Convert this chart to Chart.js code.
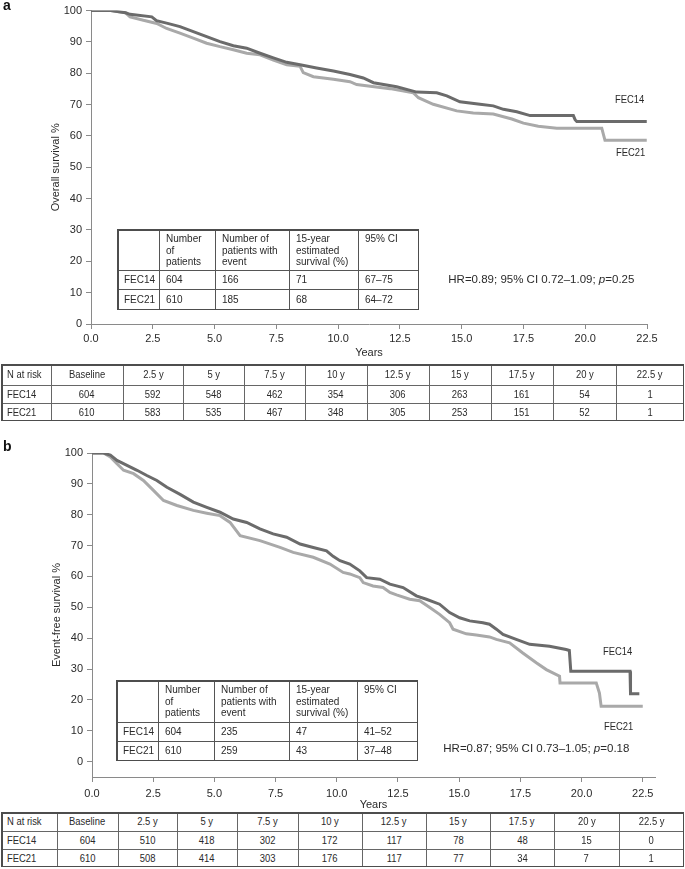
<!DOCTYPE html>
<html>
<head>
<meta charset="utf-8">
<script src="https://cdn.jsdelivr.net/npm/chart.js@4.4.1/dist/chart.umd.min.js"></script>
<style>
html,body{margin:0;padding:0;background:#fff;}
#wrap{position:relative;width:685px;height:869px;overflow:hidden;font-family:"Liberation Sans",Arial,Helvetica,sans-serif;color:#222;}
canvas{position:absolute;left:0;}
.t{position:absolute;white-space:nowrap;line-height:1;}
.ln{position:absolute;}
</style>
</head>
<body>
<div id="wrap">
  <canvas id="cA" width="685" height="362" style="top:0px"></canvas>
  <canvas id="cB" width="685" height="372" style="top:440px"></canvas>
</div>
<script>
// ---------------- DATA ----------------
// Panel a: overall survival (years, survival %)
const osYears14 = [0, 0.8, 1.4, 1.58, 2.46, 2.65, 3.06, 3.60, 4.14, 4.68, 5.22, 5.76, 6.30, 6.84, 7.38, 7.92, 8.46, 9.13, 9.81, 10.48, 11.02, 11.43, 12.37, 13.18, 13.99, 14.40, 14.93, 15.74, 16.28, 16.69, 17.23, 17.77, 19.52, 19.59, 19.66, 22.49];
const osSurv14  = [100, 100, 99.3, 98.8, 98.0, 96.8, 96.0, 94.9, 93.3, 91.7, 90.1, 88.8, 88.0, 86.4, 84.9, 83.5, 82.7, 81.7, 80.7, 79.6, 78.5, 77.0, 75.7, 74.0, 73.8, 72.8, 70.9, 70.1, 69.6, 68.5, 67.7, 66.5, 66.5, 65.2, 64.6, 64.6];
const osYears21 = [0, 0.8, 1.4, 1.58, 2.12, 2.66, 3.06, 3.60, 4.14, 4.68, 5.22, 5.76, 6.30, 6.84, 7.38, 7.92, 8.46, 8.59, 9.00, 9.81, 10.48, 10.75, 12.10, 13.04, 13.25, 13.85, 14.80, 15.47, 16.28, 17.03, 17.50, 18.10, 18.85, 20.67, 20.73, 20.80, 22.49];
const osSurv21  = [100, 100, 99.3, 98.0, 96.9, 95.9, 94.3, 92.8, 91.2, 89.6, 88.5, 87.5, 86.4, 85.9, 84.2, 82.7, 82.2, 80.2, 78.9, 78.1, 77.3, 76.4, 75.1, 73.8, 72.2, 70.1, 68.0, 67.3, 67.0, 65.4, 64.1, 63.1, 62.5, 62.5, 60.7, 58.6, 58.6];

// Panel b: event-free survival
const efsYears14 = [0, 0.47, 0.75, 1.02, 1.43, 1.84, 2.24, 2.65, 3.06, 3.60, 4.14, 4.69, 5.23, 5.77, 6.32, 6.86, 7.40, 7.95, 8.50, 9.04, 9.58, 9.85, 10.13, 10.53, 10.94, 11.22, 11.76, 12.17, 12.71, 13.25, 13.66, 14.20, 14.61, 15.02, 15.43, 15.97, 16.24, 16.52, 16.79, 17.33, 17.88, 18.69, 19.37, 19.50, 19.56, 21.98, 22.00, 22.36];
const efsSurv14  = [100, 100, 99.3, 97.6, 96.0, 94.4, 92.7, 91.1, 88.9, 86.6, 84.1, 82.4, 80.8, 78.6, 77.5, 75.4, 73.8, 72.7, 70.5, 69.4, 68.3, 66.5, 65.1, 64.0, 61.8, 59.6, 59.1, 57.5, 56.4, 53.7, 52.6, 51.0, 48.3, 46.6, 45.6, 45.0, 44.5, 42.9, 41.2, 39.6, 38.0, 37.4, 36.3, 36.0, 29.3, 29.3, 22.0, 22.0];
const efsYears21 = [0, 0.47, 0.75, 1.02, 1.29, 1.70, 2.10, 2.51, 2.92, 3.47, 4.14, 4.69, 5.23, 5.64, 6.05, 6.86, 7.68, 8.22, 9.04, 9.72, 10.26, 10.53, 10.94, 11.08, 11.48, 11.89, 12.17, 12.44, 12.98, 13.39, 13.80, 14.20, 14.61, 14.75, 15.29, 15.70, 16.24, 16.52, 17.06, 17.60, 18.15, 18.56, 19.10, 19.12, 20.60, 20.73, 20.80, 22.50];
const efsSurv21  = [100, 100, 98.7, 96.5, 94.4, 93.3, 91.1, 87.9, 84.6, 83.0, 81.4, 80.5, 79.7, 77.5, 73.2, 71.6, 69.4, 67.8, 66.2, 64.0, 61.3, 60.8, 59.6, 58.0, 56.9, 56.4, 54.8, 54.0, 52.6, 52.1, 49.9, 47.7, 45.0, 42.9, 41.4, 41.0, 40.4, 39.6, 38.5, 35.2, 32.0, 29.8, 27.7, 25.5, 25.5, 22.2, 17.9, 17.9];

// Axis ticks
const yTickValues = [0, 10, 20, 30, 40, 50, 60, 70, 80, 90, 100];
const xTickValues = [0, 2.5, 5, 7.5, 10, 12.5, 15, 17.5, 20, 22.5];

// Inner summary tables
const summaryHeader = ["", "Number<br>of<br>patients", "Number of<br>patients with<br>event", "15-year<br>estimated<br>survival (%)", "95% CI"];
const osSummary14  = ["FEC14", "604", "166", "71", "67–75"];
const osSummary21  = ["FEC21", "610", "185", "68", "64–72"];
const efsSummary14 = ["FEC14", "604", "235", "47", "41–52"];
const efsSummary21 = ["FEC21", "610", "259", "43", "37–48"];

// Numbers at risk
const riskHeader = ["N at risk", "Baseline", "2.5 y", "5 y", "7.5 y", "10 y", "12.5 y", "15 y", "17.5 y", "20 y", "22.5 y"];
const osRisk14  = [604, 592, 548, 462, 354, 306, 263, 161, 54, 1];
const osRisk21  = [610, 583, 535, 467, 348, 305, 253, 151, 52, 1];
const efsRisk14 = [604, 510, 418, 302, 172, 117, 78, 48, 15, 0];
const efsRisk21 = [610, 508, 414, 303, 176, 117, 77, 34, 7, 1];

const hrTextA = 'HR=0.89; 95% CI 0.72–1.09; <i>p</i>=0.25';
const hrTextB = 'HR=0.87; 95% CI 0.73–1.05; <i>p</i>=0.18';

// ---------------- STYLE ----------------
const FONT = '"Liberation Sans", Arial, Helvetica, sans-serif';
const DARK = '#6b6b6b';
const LIGHT = '#a9a9a9';
const AXIS = '#8a8a8a';
const TXT = '#2a2a2a';

// narrow font: use an installed condensed face if there is one, otherwise squeeze horizontally
function hasFont(name) {
  const c = document.createElement('canvas').getContext('2d');
  const s = 'abcdefghijklmnopqrstuvwxyz0123456789';
  c.font = '40px monospace'; const w1 = c.measureText(s).width;
  c.font = '40px "' + name + '", monospace'; const w2 = c.measureText(s).width;
  return Math.abs(w1 - w2) > 0.5;
}
const NARROW_OK = hasFont('Liberation Sans Narrow');
const NARROW_FAMILY = NARROW_OK ? '"Liberation Sans Narrow", ' + FONT : FONT;
const NARROW_SCALE = NARROW_OK ? 1 : 0.82;

function zip(xs, ys) { return xs.map((x, i) => ({x: x, y: ys[i]})); }

function makeChart(id, cfg) {
  const ctx = document.getElementById(id).getContext('2d');
  return new Chart(ctx, {
    type: 'line',
    data: {
      datasets: [
        {label: 'FEC14', data: cfg.d14, borderColor: DARK, borderWidth: 3, pointRadius: 0, tension: 0, fill: false, order: 0, borderJoinStyle: 'miter'},
        {label: 'FEC21', data: cfg.d21, borderColor: LIGHT, borderWidth: 3, pointRadius: 0, tension: 0, fill: false, order: 1, borderJoinStyle: 'miter'}
      ]
    },
    options: {
      responsive: false, animation: false, devicePixelRatio: 1,
      layout: {padding: cfg.pad},
      plugins: {legend: {display: false}, tooltip: {enabled: false}},
      scales: {
        x: {
          type: 'linear', min: 0, max: cfg.xMax,
          afterBuildTicks: s => { s.ticks = xTickValues.map(v => ({value: v})); },
          ticks: {callback: v => Number(v).toFixed(1), font: {family: FONT, size: 11}, color: TXT, padding: cfg.xTickPad, maxRotation: 0, autoSkip: false},
          grid: {drawOnChartArea: false, drawTicks: true, tickLength: 5, color: AXIS},
          border: {display: true, color: AXIS, width: 1},
          title: {display: true, text: 'Years', font: {family: FONT, size: 11}, color: TXT, padding: {top: 0, bottom: cfg.xTitlePad}},
          afterFit: s => { s.height = cfg.xH; }
        },
        y: {
          min: cfg.yMin, max: 100,
          afterBuildTicks: s => { s.ticks = yTickValues.map(v => ({value: v})); },
          ticks: {font: {family: FONT, size: 11}, color: TXT, padding: 4, autoSkip: false},
          grid: {drawOnChartArea: false, drawTicks: true, tickLength: 5, color: AXIS},
          border: {display: true, color: AXIS, width: 1},
          title: {display: true, text: cfg.yTitle, font: {family: FONT, size: 11}, color: TXT, padding: {top: 6, bottom: 0}},
          afterFit: s => { s.width = 48; }
        }
      }
    }
  });
}

makeChart('cA', {
  d14: zip(osYears14, osSurv14), d21: zip(osYears21, osSurv21),
  pad: {left: 43, top: 7, right: 38, bottom: 0},
  xMax: 22.5, yMin: 0, xH: 38, xTickPad: 3, xTitlePad: 2.4,
  yTitle: 'Overall survival %'
});
makeChart('cB', {
  d14: zip(efsYears14, efsSurv14), d21: zip(efsYears21, efsSurv21),
  pad: {left: 44, top: 13, right: 30, bottom: 0},
  xMax: 23, yMin: -5, xH: 35, xTickPad: 5.5, xTitlePad: 0,
  yTitle: 'Event-free survival %'
});

// ---------------- HTML OVERLAYS ----------------
const wrap = document.getElementById('wrap');

function addText(html, x, baseline, size, opts) {
  opts = opts || {};
  const d = document.createElement('div');
  d.className = 't';
  d.innerHTML = html;
  d.style.left = x + 'px';
  d.style.top = (baseline - 0.8465 * size) + 'px';
  d.style.fontSize = size + 'px';
  d.style.fontFamily = opts.narrow ? NARROW_FAMILY : FONT;
  if (opts.narrow && NARROW_SCALE !== 1) {
    d.style.transform = 'scaleX(' + NARROW_SCALE + ')';
    d.style.transformOrigin = 'left center';
  }
  if (opts.bold) d.style.fontWeight = 'bold';
  d.style.color = opts.color || TXT;
  wrap.appendChild(d);
  return d;
}

function addLine(x, y, w, h, color) {
  const d = document.createElement('div');
  d.className = 'ln';
  d.style.left = x + 'px'; d.style.top = y + 'px';
  d.style.width = w + 'px'; d.style.height = h + 'px';
  d.style.background = color;
  wrap.appendChild(d);
}

// grid table: xs = column edges, ys = row edges
function drawGrid(xs, ys, outerW, outerC, innerC) {
  const L = xs[0], R = xs[xs.length - 1], T = ys[0], B = ys[ys.length - 1];
  for (let i = 1; i < xs.length - 1; i++) addLine(xs[i], T, 1, B - T, innerC);
  for (let j = 1; j < ys.length - 1; j++) addLine(L, ys[j], R - L, 1, innerC);
  addLine(L, T, R - L, outerW, outerC);
  addLine(L, B - outerW, R - L, outerW, outerC);
  addLine(L, T, outerW, B - T, outerC);
  addLine(R - outerW, T, outerW, B - T, outerC);
}

function cellText(html, x0, x1, y0, y1, opts) {
  const d = document.createElement('div');
  d.className = 't';
  d.style.left = x0 + 'px';
  d.style.width = (x1 - x0) + 'px';
  d.style.top = y0 + 'px';
  d.style.height = (y1 - y0) + 'px';
  d.style.display = 'flex';
  d.style.flexDirection = 'column';
  d.style.justifyContent = opts.valign === 'top' ? 'flex-start' : 'center';
  d.style.alignItems = opts.align === 'left' ? 'flex-start' : 'center';
  d.style.boxSizing = 'border-box';
  d.style.paddingLeft = (opts.padL || 0) + 'px';
  d.style.paddingTop = (opts.padT || 0) + 'px';
  d.style.fontSize = opts.size + 'px';
  d.style.fontFamily = opts.narrow ? NARROW_FAMILY : FONT;
  d.style.color = TXT;
  d.style.whiteSpace = 'nowrap';
  const s = document.createElement('span');
  s.innerHTML = html;
  s.style.lineHeight = opts.lh || '11.7px';
  s.style.display = 'inline-block';
  if (opts.narrow && NARROW_SCALE !== 1) {
    s.style.transform = 'scaleX(' + NARROW_SCALE + ')';
    s.style.transformOrigin = opts.align === 'left' ? 'left center' : 'center center';
  }
  d.appendChild(s);
  wrap.appendChild(d);
}

function summaryTable(xs, ys, r14, r21) {
  drawGrid(xs, ys, 1.5, '#4d4d4d', '#555');
  for (let c = 0; c < 5; c++) {
    cellText(summaryHeader[c], xs[c], xs[c + 1], ys[0], ys[1], {align: 'left', valign: 'top', padL: 7, padT: 4, size: 10});
    cellText(r14[c], xs[c], xs[c + 1], ys[1], ys[2], {align: 'left', padL: 7, size: 10});
    cellText(r21[c], xs[c], xs[c + 1], ys[2], ys[3], {align: 'left', padL: 7, size: 10});
  }
}

function riskTable(xs, ys, r14, r21) {
  drawGrid(xs, ys, 1.5, '#4d4d4d', '#666');
  const rows = [riskHeader, ['FEC14'].concat(r14), ['FEC21'].concat(r21)];
  for (let r = 0; r < 3; r++) {
    for (let c = 0; c < rows[r].length; c++) {
      cellText(String(rows[r][c]), xs[c], xs[c + 1], ys[r], ys[r + 1],
        {align: c === 0 ? 'left' : 'center', padL: c === 0 ? 6 : 0, size: 11.5, narrow: true, lh: '12px'});
    }
  }
}

// panel letters
addText('a', 3, 10, 14, {bold: true, color: '#111'});
addText('b', 3, 451, 14, {bold: true, color: '#111'});

// curve labels
addText('FEC14', 615, 103.3, 11.5, {narrow: true});
addText('FEC21', 615.7, 156.7, 11.5, {narrow: true});
addText('FEC14', 603.3, 655.7, 11.5, {narrow: true});
addText('FEC21', 604, 730.7, 11.5, {narrow: true});

// HR texts
addText(hrTextA, 448.3, 284, 11.5);
addText(hrTextB, 443.3, 752.3, 11.5);

// inner summary tables
summaryTable([117, 159, 215, 289, 358, 419], [229, 270, 289, 310], osSummary14, osSummary21);
summaryTable([116, 158, 214, 289, 357, 418], [680, 722, 741, 761], efsSummary14, efsSummary21);

// at-risk tables
riskTable([1, 51, 123, 183, 244, 305, 367, 429, 491, 553, 616, 684], [364, 384.5, 403, 421], osRisk14, osRisk21);
riskTable([1, 57, 118, 177, 237, 298, 362, 426, 490, 554, 619, 684], [812, 830.5, 849, 867], efsRisk14, efsRisk21);
</script>
</body>
</html>
